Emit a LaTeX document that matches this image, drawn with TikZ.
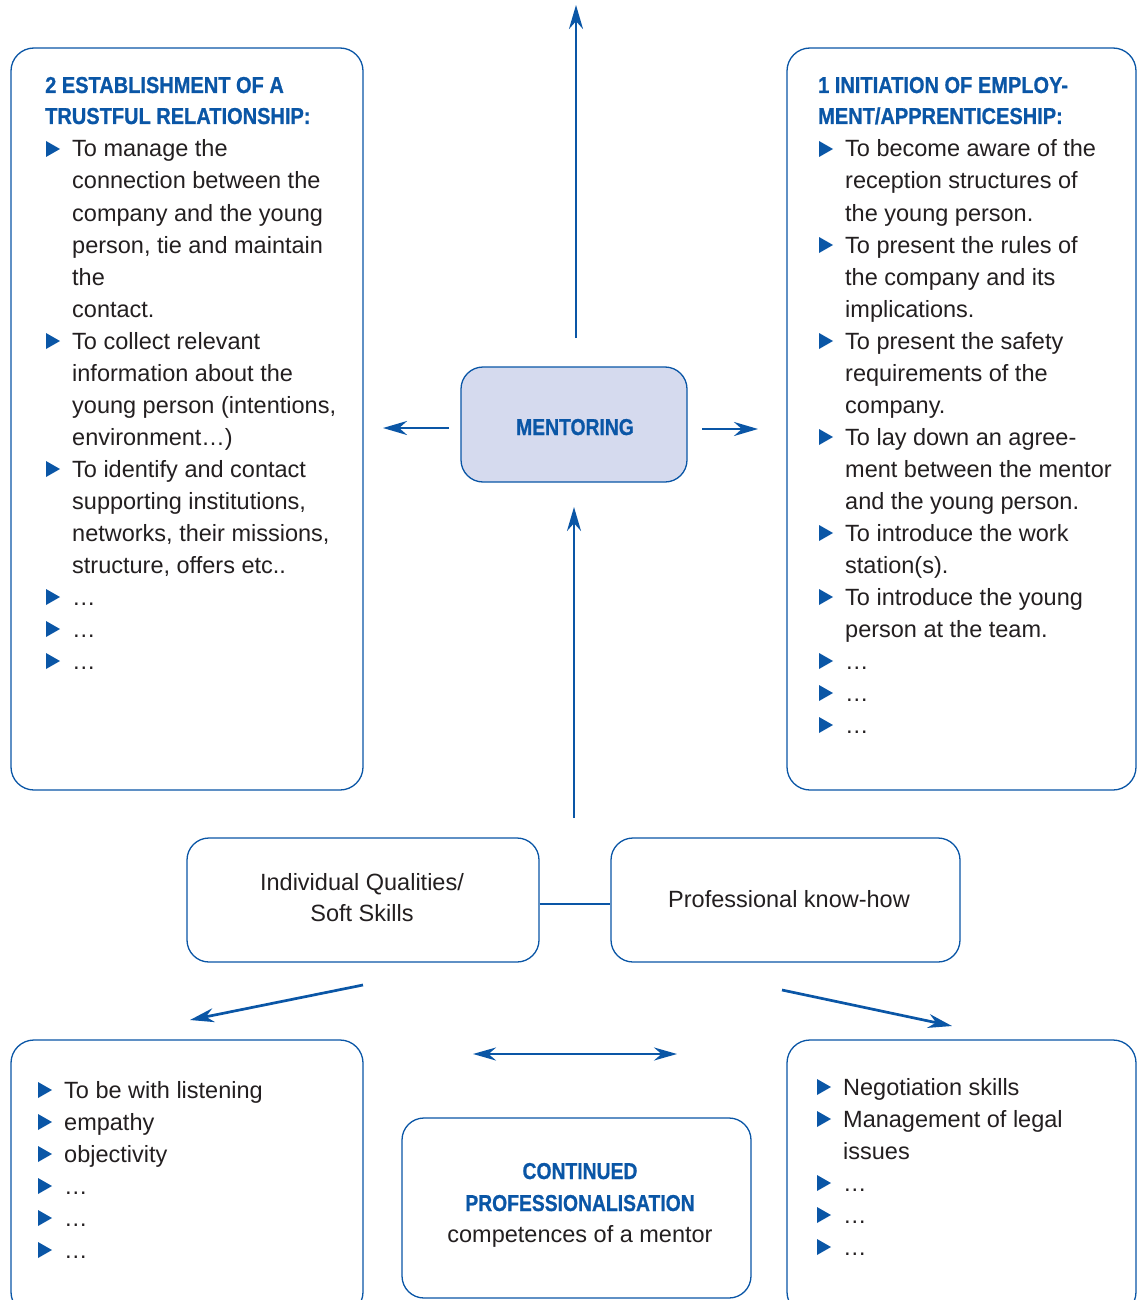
\documentclass[tikz,border=0pt]{standalone}
\usepackage{fontspec}
\setmainfont{Liberation Sans}
\newfontfamily\headfont[FakeStretch=0.87, BoldFeatures={FakeBold=0.8}]{Liberation Sans}
\newfontfamily\centfont[FakeStretch=0.84, BoldFeatures={FakeBold=0.8}]{Liberation Sans}
\usetikzlibrary{arrows.meta}
\definecolor{mblue}{HTML}{0A56A6}
\definecolor{mfill}{HTML}{D5DAEE}
\definecolor{mtext}{HTML}{231F20}

\begin{document}
\begin{tikzpicture}[x=1pt,y=-1pt,
  box/.style={draw=mblue, line width=1.3pt, rounded corners=23pt, inner sep=0pt},
  line/.style={text=mtext, anchor=base west, inner sep=0pt, font=\fontsize{23.5}{32}\selectfont},
  ctext/.style={text=mtext, anchor=base, inner sep=0pt, font=\fontsize{23.5}{32}\selectfont},
  head/.style={text=mblue, anchor=base west, inner sep=0pt, font=\headfont\bfseries\fontsize{23}{31}\selectfont},
  chead/.style={text=mblue, anchor=base, inner sep=0pt, font=\centfont\bfseries\fontsize{23}{31}\selectfont},
  tip/.style={Stealth[length=24pt,width=14pt]},
  arrow/.style={draw=mblue, line width=2.7pt, -{Stealth[length=24pt,width=14pt]}},
  dblarrow/.style={draw=mblue, line width=2.7pt, {Stealth[length=23pt,width=13pt]}-{Stealth[length=23pt,width=13pt]}},
  tri/.pic={\fill[mblue] (0,0) -- (0,-16) -- (14,-8) -- cycle;}
]
\useasboundingbox (0,0) rectangle (1143,1300);
\fill[white] (0,0) rectangle (1143,1300);

% boxes
\node[box, minimum width=352pt, minimum height=742pt] (trust) at (187,419) {};
\node[box, minimum width=349pt, minimum height=742pt] (init) at (961.5,419) {};
\node[box, fill=mfill, rounded corners=22pt, minimum width=226pt, minimum height=115pt] (ment) at (574,424.5) {};
\node[box, rounded corners=22pt, minimum width=352pt, minimum height=124pt] (soft) at (363,900) {};
\node[box, rounded corners=22pt, minimum width=349pt, minimum height=124pt] (know) at (785.5,900) {};
\node[box, minimum width=352pt, minimum height=275pt] (qual) at (187,1177.5) {};
\node[box, minimum width=349pt, minimum height=275pt] (skills) at (961.5,1177.5) {};
\node[box, rounded corners=22pt, minimum width=349pt, minimum height=180pt] (cont) at (576.5,1208) {};

% centre labels
\node[chead, font=\centfont\bfseries\fontsize{23}{31}\selectfont] (mentlbl) at (575,435) {MENTORING};
\node[ctext] (soft1) at (362,890) {Individual Qualities/};
\node[ctext] (soft2) at (362,921.5) {Soft Skills};
\node[ctext] (know1) at (789,907) {Professional know-how};
\node[chead] (cont1) at (580,1179) {CONTINUED};
\node[chead] (cont2) at (580,1211) {PROFESSIONALISATION};
\node[ctext] (cont3) at (580,1242) {competences of a mentor};

% panel headings
\node[head] (trustH1) at (45,93) {2 ESTABLISHMENT OF A};
\node[head] (trustH2) at (45,124) {TRUSTFUL RELATIONSHIP:};
\node[head] (initH1) at (818,93) {1 INITIATION OF EMPLOY-};
\node[head] (initH2) at (818,124) {MENT/APPRENTICESHIP:};

% bulleted lists (1 = line opens with a bullet)
\foreach \b/\t [count=\i from 0] in {1/To manage the, 0/connection between the,
  0/company and the young, 0/{person, tie and maintain}, 0/the, 0/contact.,
  1/To collect relevant, 0/information about the, 0/{young person (intentions,},
  0/environment…), 1/To identify and contact, 0/{supporting institutions,},
  0/{networks, their missions,}, 0/{structure, offers etc..}, 1/…, 1/…, 1/…}{
  \node[line] (trustL\i) at (72,{157+32*\i}) {\t};
  \ifnum\b=1 \pic at (46,{157+32*\i}) {tri}; \fi
}
\foreach \b/\t [count=\i from 0] in {1/To become aware of the, 0/reception structures of,
  0/the young person., 1/To present the rules of, 0/the company and its,
  0/implications., 1/To present the safety, 0/requirements of the, 0/company.,
  1/To lay down an agree-, 0/ment between the mentor, 0/and the young person.,
  1/To introduce the work, 0/station(s)., 1/To introduce the young,
  0/person at the team., 1/…, 1/…, 1/…}{
  \node[line] (initL\i) at (845,{157+32*\i}) {\t};
  \ifnum\b=1 \pic at (819,{157+32*\i}) {tri}; \fi
}
\foreach \b/\t [count=\i from 0] in {1/To be with listening, 1/empathy, 1/objectivity,
  1/…, 1/…, 1/…}{
  \node[line] (qualL\i) at (64,{1098+32*\i}) {\t};
  \ifnum\b=1 \pic at (38,{1098+32*\i}) {tri}; \fi
}
\foreach \b/\t [count=\i from 0] in {1/Negotiation skills, 1/Management of legal,
  0/issues, 1/…, 1/…, 1/…}{
  \node[line] (skillsL\i) at (843,{1095+32*\i}) {\t};
  \ifnum\b=1 \pic at (817,{1095+32*\i}) {tri}; \fi
}

% connector ends
\coordinate (upS) at (576,338);
\coordinate (upE) at (576,5);
\coordinate (leftS) at (449,428);
\coordinate (leftE) at (383,428);
\coordinate (rightS) at (702,429);
\coordinate (rightE) at (758,429);
\coordinate (baseS) at (574,818);
\coordinate (baseE) at (574,507);
\coordinate (dlS) at (363,985);
\coordinate (dlE) at (190,1020);
\coordinate (drS) at (782,990);
\coordinate (drE) at (952,1026);
\coordinate (hA) at (473,1054);
\coordinate (hB) at (677,1054);

% connectors
\draw[arrow] (upS) -- (upE);
\draw[arrow] (leftS) -- (leftE);
\draw[arrow] (rightS) -- (rightE);
\draw[arrow] (baseS) -- (baseE);
\draw[arrow] (dlS) -- (dlE);
\draw[arrow] (drS) -- (drE);
\draw[dblarrow] (hA) -- (hB);
\draw[mblue, line width=1.3pt] ([yshift=-4pt]soft.east) -- ([yshift=-4pt]know.west);
\end{tikzpicture}
\end{document}
